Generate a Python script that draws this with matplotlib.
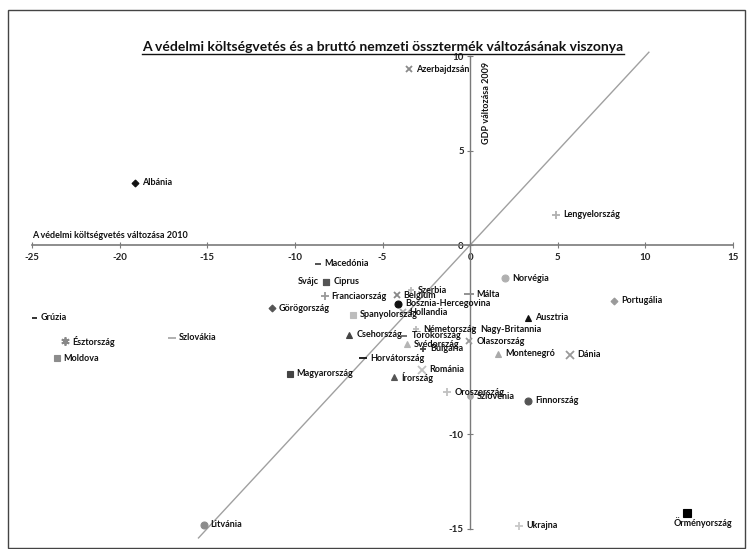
import matplotlib
matplotlib.use("Agg")
import matplotlib.pyplot as plt
from matplotlib.lines import Line2D
from matplotlib.patches import Rectangle

plt.rcParams['axes.unicode_minus'] = False
plt.rcParams['font.family'] = ['Lato', 'DejaVu Sans']

# ---- data ----
countries = ["Azerbajdzsán", "Albánia", "Lengyelország", "Macedónia", "Svájc", "Ciprus",
             "Franciaország", "Görögország", "Spanyolország", "Csehország", "Horvátország",
             "Magyarország", "Grúzia", "Észtország", "Moldova", "Szlovákia", "Norvégia",
             "Málta", "Portugália", "Ausztria", "Belgium", "Szerbia", "Bosznia-Hercegovina",
             "Hollandia", "Németország", "Nagy-Britannia", "Törökország", "Svédország",
             "Bulgária", "Olaszország", "Montenegró", "Dánia", "Románia", "Írország",
             "Oroszország", "Szlovénia", "Finnország", "Litvánia", "Ukrajna", "Örményország"]
defence_change_2010 = [-3.5, -19.1, 4.9, -8.7, -8.2, -8.2,
                       -8.3, -11.3, -6.7, -6.9, -6.1,
                       -10.3, -24.9, -23.1, -23.6, -17.0, 2.0,
                       -0.05, 8.2, 3.3, -4.2, -3.4, -4.1,
                       -3.85, -3.1, 0.15, -3.75, -3.6,
                       -2.7, -0.05, 1.6, 5.7, -2.75, -4.35,
                       -1.3, 0.0, 3.3, -15.2, 2.8, 12.4]
gdp_change_2009 = [9.3, 3.3, 1.6, -1.0, -1.95, -1.95,
                   -2.7, -3.35, -3.7, -4.75, -6.0,
                   -6.8, -3.85, -5.1, -6.0, -4.9, -1.75,
                   -2.6, -2.95, -3.85, -2.65, -2.4, -3.1,
                   -3.55, -4.45, -4.45, -4.8, -5.25,
                   -5.5, -5.1, -5.75, -5.8, -6.6, -7.0,
                   -7.8, -8.0, -8.25, -14.8, -14.85, -14.2]
x_ticks = [-25, -20, -15, -10, -5, 0, 5, 10, 15]
y_ticks = [-15, -10, 0, 5, 10]

# ---- styles (marker, color, size) ----
styles = {
    "Azerbajdzsán": ('x', '#8a8a8a', 5), "Albánia": ('D', '#111111', 3.5),
    "Lengyelország": ('+', '#b0b0b0', 6), "Macedónia": ('_', '#444444', 4),
    "Svájc": ('s', '#555555', 4.5), "Ciprus": ('s', '#555555', 4.5),
    "Franciaország": ('+', '#999999', 6), "Görögország": ('D', '#555555', 3.5),
    "Spanyolország": ('s', '#bdbdbd', 5), "Csehország": ('^', '#444444', 5),
    "Horvátország": ('_', '#111111', 6), "Magyarország": ('s', '#444444', 5),
    "Grúzia": ('_', '#222222', 4), "Észtország": ((6, 2, 0), '#888888', 6),
    "Moldova": ('s', '#8c8c8c', 5), "Szlovákia": ('_', '#aaaaaa', 6),
    "Norvégia": ('o', '#b0b0b0', 5), "Málta": ('_', '#8a8a8a', 7),
    "Portugália": ('D', '#9a9a9a', 3.5), "Ausztria": ('^', '#111111', 5),
    "Belgium": ('x', '#888888', 4.5), "Szerbia": ('+', '#bbbbbb', 4),
    "Bosznia-Hercegovina": ('o', '#111111', 5), "Hollandia": ('x', '#aaaaaa', 4),
    "Németország": ('+', '#bbbbbb', 4), "Nagy-Britannia": ('+', '#bbbbbb', 4),
    "Törökország": ('_', '#666666', 4), "Svédország": ('^', '#b5b5b5', 5),
    "Bulgária": ('+', '#444444', 5), "Olaszország": ('x', '#999999', 5),
    "Montenegró": ('^', '#aaaaaa', 5), "Dánia": ('x', '#999999', 6),
    "Románia": ('x', '#c0c0c0', 6), "Írország": ('^', '#555555', 5),
    "Oroszország": ('+', '#c0c0c0', 6), "Szlovénia": ('o', '#aaaaaa', 4),
    "Finnország": ('o', '#555555', 5), "Litvánia": ('o', '#8c8c8c', 5),
    "Ukrajna": ('+', '#c8c8c8', 6), "Örményország": ('s', '#000000', 5.5),
}
label_pos = {"Svájc": 'left', "Örményország": 'below'}

W, H = 751, 549
fig = plt.figure(figsize=(W / 100, H / 100), dpi=100)
fig.patch.set_facecolor('white')
fig.patches.append(Rectangle((8 / W, 0.002), (745 - 8) / W, 1 - 10 / H - 0.002,
                             transform=fig.transFigure, fill=False,
                             edgecolor='#444444', linewidth=1.0))

ax = fig.add_axes([32 / W, 1 - 528.5 / H, (733 - 32) / W, (528.5 - 56) / H])
ax.set_xlim(-25, 15)
ax.set_ylim(-15, 10)
ax.patch.set_alpha(0)

for s in ['top', 'right']:
    ax.spines[s].set_visible(False)
ax.spines['left'].set_position(('data', 0))
ax.spines['bottom'].set_position(('data', 0))
ax.spines['left'].set_color('#7a7a7a')
ax.spines['bottom'].set_color('#7a7a7a')
ax.spines['left'].set_linewidth(1.0)
ax.spines['bottom'].set_linewidth(1.2)

ax.set_xticks(x_ticks)
ax.set_xticklabels([str(t) for t in x_ticks])
ax.set_yticks(y_ticks)
ax.set_yticklabels([str(t) for t in y_ticks])
ax.tick_params(axis='x', direction='inout', length=5, color='#7a7a7a', pad=3,
               labelsize=7, labelcolor='#222222')
ax.tick_params(axis='y', direction='inout', length=5, color='#7a7a7a', pad=2,
               labelsize=7, labelcolor='#222222')
for lab in ax.get_xticklabels() + ax.get_yticklabels():
    lab.set_fontweight('bold')

# diagonal reference line
ax.plot([-15.5, 10.2], [-15.5, 10.2], color='#a0a0a0', linewidth=1.0, zorder=1,
        clip_on=False)

for name, xv, yv in zip(countries, defence_change_2010, gdp_change_2009):
    m, c, s = styles[name]
    ax.plot([xv], [yv], linestyle='none', marker=m, color=c, markersize=s,
            markeredgewidth=1.3 if m in ('x', '+', '_', (6, 2, 0)) else 0.8,
            zorder=3)
    pos = label_pos.get(name, 'right')
    if pos == 'right':
        ax.annotate(name, (xv, yv), xytext=(7, 0), textcoords='offset pixels',
                    ha='left', va='center', fontsize=6.5, fontweight='bold',
                    color='#111111', zorder=4)
    elif pos == 'left':
        ax.annotate(name, (xv, yv), xytext=(-8, 0), textcoords='offset pixels',
                    ha='right', va='center', fontsize=6.5, fontweight='bold',
                    color='#111111', zorder=4)
    else:
        ax.annotate(name, (xv, yv), xytext=(-14, -9), textcoords='offset pixels',
                    ha='left', va='center', fontsize=6.5, fontweight='bold',
                    color='#111111', zorder=4)

ax.text(-25, 0.25, "A védelmi költségvetés változása 2010", ha='left', va='bottom',
        fontsize=6.5, fontweight='bold', color='#111111')
ax.text(0.95, 9.7, "GDP változása 2009", ha='center', va='top', rotation=90,
        fontsize=6.5, fontweight='bold', color='#111111')

title = fig.text(383 / W, 1 - 47 / H,
                 "A védelmi költségvetés és a bruttó nemzeti össztermék változásának viszonya",
                 ha='center', va='center', fontsize=10, fontweight='bold', color='#111111')

fig.canvas.draw()
bb = title.get_window_extent(renderer=fig.canvas.get_renderer())
y_ul = (bb.y0 - 1) / H
fig.add_artist(Line2D([bb.x0 / W, bb.x1 / W], [y_ul, y_ul], transform=fig.transFigure,
                      color='#111111', linewidth=1.0))

fig.savefig("out.png", dpi=100)
